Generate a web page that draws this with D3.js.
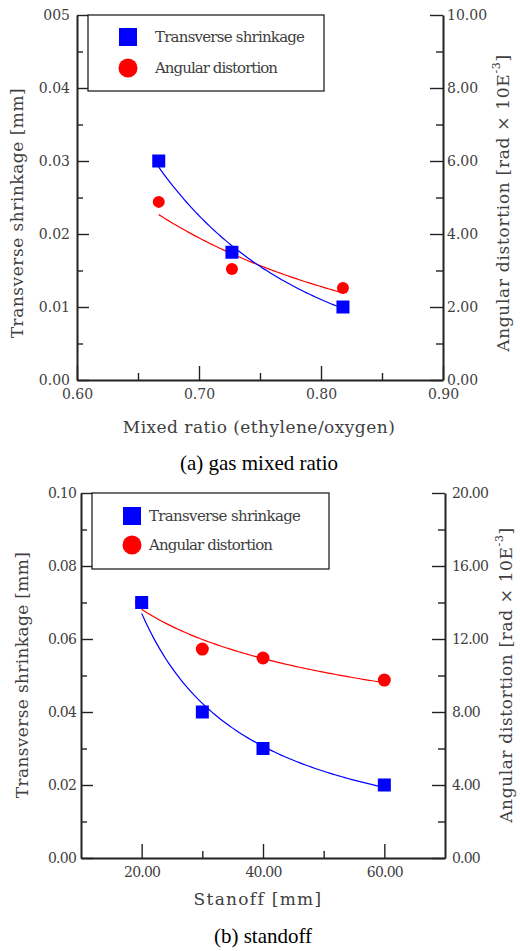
<!DOCTYPE html>
<html><head><meta charset="utf-8">
<script src="https://cdn.jsdelivr.net/npm/d3@7"></script>
<style>
html,body{margin:0;padding:0;background:#fff;}
svg{display:block;}
</style></head><body>
<svg id="chart" width="520" height="951"></svg>
<script>
// (a) gas mixed ratio
const ratioX = [0.667, 0.727, 0.818];
const ratioShrinkage = [0.030, 0.0175, 0.010];   // mm
const ratioDistortion = [4.88, 3.04, 2.52];      // rad x 10E-3

// (b) standoff
const standoffX = [20, 30, 40, 60];
const standoffShrinkage = [0.070, 0.040, 0.030, 0.020];
const standoffDistortion = [14.0, 11.45, 10.96, 9.75];

// tick values and labels
const ratioXTicks = [0.60, 0.70, 0.80, 0.90];
const ratioXMinor = [0.65, 0.75, 0.85];
const ratioLeftTicks = [0, 0.01, 0.02, 0.03, 0.04, 0.05];
const ratioLeftLabels = ["0.00", "0.01", "0.02", "0.03", "0.04", "005"];
const ratioLeftMinor = [0.005, 0.015, 0.025, 0.035, 0.045];
const ratioRightTicks = [0, 2, 4, 6, 8, 10];
const ratioRightMinor = [1, 3, 5, 7, 9];

const standoffXTicks = [20, 40, 60];
const standoffXMinor = [30, 50];
const standoffLeftTicks = [0, 0.02, 0.04, 0.06, 0.08, 0.10];
const standoffLeftLabels = ["0.00", "0.02", "0.04", "0.06", "0.08", "0.10"];
const standoffLeftMinor = [0.01, 0.03, 0.05, 0.07, 0.09];
const standoffRightTicks = [0, 4, 8, 12, 16, 20];
const standoffRightMinor = [2, 6, 10, 14, 18];

const BLUE = "#0000ff", RED = "#ff0000", INK = "#222", TXT = "#404040";
const SERIF = '"DejaVu Serif", serif';
const CAPTION_FONT = '"Liberation Serif", "Times New Roman", serif';
const svg = d3.select("#chart");
const fmt2 = d3.format(".2f");

// least-squares power trend  y = a * x^b
function powerFit(xs, ys) {
  const lx = xs.map(Math.log), ly = ys.map(Math.log);
  const mx = d3.mean(lx), my = d3.mean(ly);
  const b = d3.sum(lx, (v, i) => (v - mx) * (ly[i] - my)) / d3.sum(lx, v => (v - mx) ** 2);
  const a = Math.exp(my - b * mx);
  return x => a * Math.pow(x, b);
}

// spread a text's letters so that it spans the given width
function fitWidth(sel, target) {
  const node = sel.node();
  const n = node.getNumberOfChars();
  const len = node.getComputedTextLength();
  sel.attr("letter-spacing", ((target - len) / (n - 1)).toFixed(3));
}

function label(g, size, fill, family) {
  return g.append("text").attr("font-family", family || SERIF)
    .attr("font-size", size).attr("fill", fill);
}

function panel(p) {
  const g = svg.append("g");
  const x = d3.scaleLinear().domain(p.xDomain).range([p.left, p.right]);
  const yL = d3.scaleLinear().domain(p.leftDomain).range([p.bottom, p.top]);
  const yR = d3.scaleLinear().domain(p.rightDomain).range([p.bottom, p.top]);

  function styleAxis(ax, fontSize, spacing) {
    ax.attr("font-family", SERIF).attr("font-size", fontSize);
    ax.select(".domain").attr("stroke", INK).attr("stroke-width", 2);
    ax.selectAll(".tick line").attr("stroke", INK).attr("stroke-width", 1.4);
    ax.selectAll(".tick text").attr("fill", TXT).attr("letter-spacing", spacing);
  }
  function minor(axisFn, scale, vals, size, tr) {
    const m = g.append("g").attr("transform", tr)
      .call(axisFn(scale).tickValues(vals).tickSize(-size).tickSizeOuter(0).tickFormat(""));
    m.select(".domain").remove();
    m.selectAll(".tick line").attr("stroke", INK).attr("stroke-width", 1.4);
  }

  // minor ticks
  minor(d3.axisBottom, x, p.xMinor, 7, `translate(0,${p.bottom})`);
  minor(d3.axisLeft, yL, p.leftMinor, 6, `translate(${p.left},0)`);
  minor(d3.axisRight, yR, p.rightMinor, 7, `translate(${p.right},0)`);

  // major axes
  const axB = g.append("g").attr("transform", `translate(0,${p.bottom})`)
    .call(d3.axisBottom(x).tickValues(p.xTicks).tickSize(-14).tickSizeOuter(0)
      .tickPadding(p.xPad).tickFormat(p.xFormat));
  styleAxis(axB, p.tickFont, p.tickSpacing);
  const axL = g.append("g").attr("transform", `translate(${p.left},0)`)
    .call(d3.axisLeft(yL).tickValues(p.leftTicks).tickSize(-12).tickSizeOuter(0)
      .tickPadding(p.leftPad).tickFormat((d, i) => p.leftLabels[i]));
  styleAxis(axL, p.tickFont, p.tickSpacing);
  const axR = g.append("g").attr("transform", `translate(${p.right},0)`)
    .call(d3.axisRight(yR).tickValues(p.rightTicks).tickSize(-13).tickSizeOuter(0)
      .tickPadding(p.rightPad).tickFormat(fmt2));
  styleAxis(axR, p.tickFont, p.tickSpacing);

  // trend curves
  const fitS = powerFit(p.xs, p.shrink);
  const fitD = powerFit(p.xs, p.distort);
  const x0 = d3.min(p.xs), x1 = d3.max(p.xs);
  const samples = d3.range(0, 81).map(i => x0 + (x1 - x0) * i / 80);
  g.append("path").attr("fill", "none").attr("stroke", RED).attr("stroke-width", 1.2)
    .attr("d", d3.line().x(v => x(v)).y(v => yR(fitD(v)))(samples));
  g.append("path").attr("fill", "none").attr("stroke", BLUE).attr("stroke-width", 1.2)
    .attr("d", d3.line().x(v => x(v)).y(v => yL(fitS(v)))(samples));

  // markers
  g.selectAll(null).data(p.xs).join("circle")
    .attr("cx", (d) => x(d)).attr("cy", (d, i) => yR(p.distort[i]))
    .attr("r", p.dot).attr("fill", RED);
  g.selectAll(null).data(p.xs).join("rect")
    .attr("x", d => x(d) - p.sq / 2).attr("y", (d, i) => yL(p.shrink[i]) - p.sq / 2)
    .attr("width", p.sq).attr("height", p.sq).attr("fill", BLUE);

  // legend
  const L = p.legend;
  g.append("rect").attr("x", L.x).attr("y", L.y).attr("width", L.w).attr("height", L.h)
    .attr("fill", "#fff").attr("stroke", INK).attr("stroke-width", 1.3);
  g.append("rect").attr("x", L.mx - 9).attr("y", L.y1 - 9).attr("width", 18).attr("height", 18)
    .attr("fill", BLUE);
  g.append("circle").attr("cx", L.mx).attr("cy", L.y2).attr("r", 9.5).attr("fill", RED);
  const t1 = label(g, 15, TXT).attr("x", L.tx).attr("y", L.y1 + 5).text("Transverse shrinkage");
  fitWidth(t1, L.w1);
  const t2 = label(g, 15, TXT).attr("x", L.tx).attr("y", L.y2 + 5).text("Angular distortion");
  fitWidth(t2, L.w2);

  // axis titles
  const tl = label(g, 17, TXT)
    .attr("transform", `translate(${p.leftTitle.x},${p.leftTitle.y}) rotate(-90)`)
    .attr("text-anchor", "middle").attr("dominant-baseline", "central")
    .text("Transverse shrinkage [mm]");
  fitWidth(tl, p.leftTitle.w);

  const tr = label(g, 17, TXT)
    .attr("transform", `translate(${p.rightTitle.x},${p.rightTitle.y}) rotate(-90)`)
    .attr("text-anchor", "middle").attr("dominant-baseline", "central");
  tr.append("tspan").text("Angular distortion [rad \u00d7 10E");
  tr.append("tspan").attr("dy", -7).attr("font-size", 11).text("-3");
  tr.append("tspan").attr("dy", 7).text("]");
  fitWidth(tr, p.rightTitle.w);

  const tb = label(g, 17, TXT).attr("x", p.xTitle.x).attr("y", p.xTitle.y)
    .attr("text-anchor", "middle").text(p.xTitle.text);
  fitWidth(tb, p.xTitle.w);

  label(g, 21, "#000", CAPTION_FONT).attr("x", p.caption.x).attr("y", p.caption.y)
    .attr("text-anchor", "middle").text(p.caption.text);
}

panel({
  xs: ratioX, shrink: ratioShrinkage, distort: ratioDistortion,
  xDomain: [0.6, 0.9], leftDomain: [0, 0.05], rightDomain: [0, 10],
  left: 77, right: 443, top: 15, bottom: 380,
  xTicks: ratioXTicks, xMinor: ratioXMinor, xFormat: fmt2,
  leftTicks: ratioLeftTicks, leftLabels: ratioLeftLabels, leftMinor: ratioLeftMinor,
  rightTicks: ratioRightTicks, rightMinor: ratioRightMinor,
  xPad: 9, leftPad: 7, rightPad: 4, tickFont: 14, tickSpacing: 0,
  dot: 6, sq: 13,
  legend: { x: 88, y: 15, w: 236, h: 76, mx: 128, y1: 37, y2: 68, tx: 155, w1: 150, w2: 123 },
  leftTitle: { x: 17, y: 213, w: 250 },
  rightTitle: { x: 503, y: 203, w: 297 },
  xTitle: { x: 259, y: 433, w: 272, text: "Mixed ratio (ethylene/oxygen)" },
  caption: { x: 259, y: 470, text: "(a) gas mixed ratio" }
});

panel({
  xs: standoffX, shrink: standoffShrinkage, distort: standoffDistortion,
  xDomain: [10, 70], leftDomain: [0, 0.10], rightDomain: [0, 20],
  left: 81, right: 445, top: 493, bottom: 858,
  xTicks: standoffXTicks, xMinor: standoffXMinor, xFormat: fmt2,
  leftTicks: standoffLeftTicks, leftLabels: standoffLeftLabels, leftMinor: standoffLeftMinor,
  rightTicks: standoffRightTicks, rightMinor: standoffRightMinor,
  xPad: 9, leftPad: 5, rightPad: 7, tickFont: 14, tickSpacing: -0.8,
  dot: 6.5, sq: 13,
  legend: { x: 92, y: 493, w: 237, h: 76, mx: 132, y1: 516, y2: 545, tx: 149, w1: 152, w2: 124 },
  leftTitle: { x: 22, y: 675, w: 246 },
  rightTitle: { x: 506, y: 675, w: 295 },
  xTitle: { x: 258, y: 905, w: 127, text: "Stanoff [mm]" },
  caption: { x: 263, y: 943, text: "(b) standoff" }
});
</script>
</body></html>
